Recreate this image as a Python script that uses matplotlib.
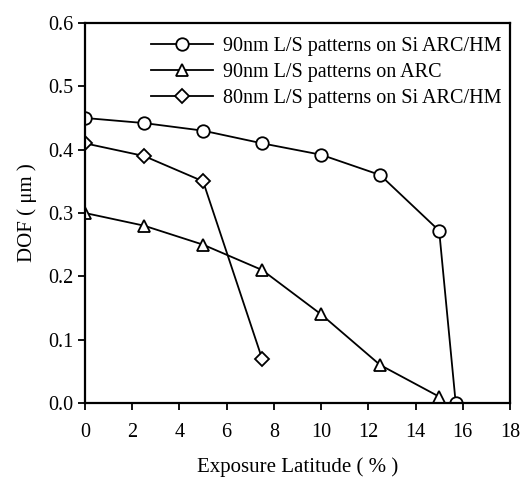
import matplotlib
matplotlib.use('Agg')
import matplotlib.pyplot as plt

plt.rcParams['font.family'] = ['Liberation Serif', 'DejaVu Serif']

x_si90 = [0, 2.5, 5, 7.5, 10, 12.5, 15, 15.7]
y_si90 = [0.45, 0.442, 0.43, 0.41, 0.392, 0.36, 0.272, 0.0]
x_arc90 = [0, 2.5, 5, 7.5, 10, 12.5, 15]
y_arc90 = [0.30, 0.28, 0.25, 0.21, 0.14, 0.06, 0.01]
x_si80 = [0, 2.5, 5, 7.5]
y_si80 = [0.41, 0.39, 0.35, 0.07]

labels = ['90nm L/S patterns on Si ARC/HM',
          '90nm L/S patterns on ARC',
          '80nm L/S patterns on Si ARC/HM']
xticks = [0, 2, 4, 6, 8, 10, 12, 14, 16, 18]
yticks = [0.0, 0.1, 0.2, 0.3, 0.4, 0.5, 0.6]

fig = plt.figure(figsize=(5.26, 4.78), dpi=100)
ax = fig.add_axes([0.1616, 0.1569, 0.808, 0.795])

style = dict(color='black', lw=1.3, mfc='white', mec='black', mew=1.3, ms=9)
ax.plot(x_si90, y_si90, marker='o', label=labels[0], **style)
ax.plot(x_arc90, y_arc90, marker='^', label=labels[1], **style)
ax.plot(x_si80, y_si80, marker='D', label=labels[2], **{**style, 'ms': 7.5})

ax.set_xlim(0, 18)
ax.set_ylim(0, 0.6)
ax.set_xticks(xticks)
ax.set_yticks(yticks)
ax.set_yticklabels(['%.1f' % v for v in yticks])
ax.tick_params(direction='out', length=5, width=1.3, labelsize=14.5)
for s in ax.spines.values():
    s.set_linewidth(1.6)
for lab in ax.get_xticklabels():
    lab.set_y(-0.022)

ax.set_xlabel('Exposure Latitude ( % )', fontsize=15, labelpad=11)
ax.set_ylabel('DOF ( \u03bcm )', fontsize=15, labelpad=8)

ax.legend(loc='upper right', frameon=False, fontsize=14.5, handlelength=3.1,
          labelspacing=0.35, borderaxespad=0.0, handletextpad=0.5,
          bbox_to_anchor=(1.0, 0.985))

fig.savefig('out.png', dpi=100)
